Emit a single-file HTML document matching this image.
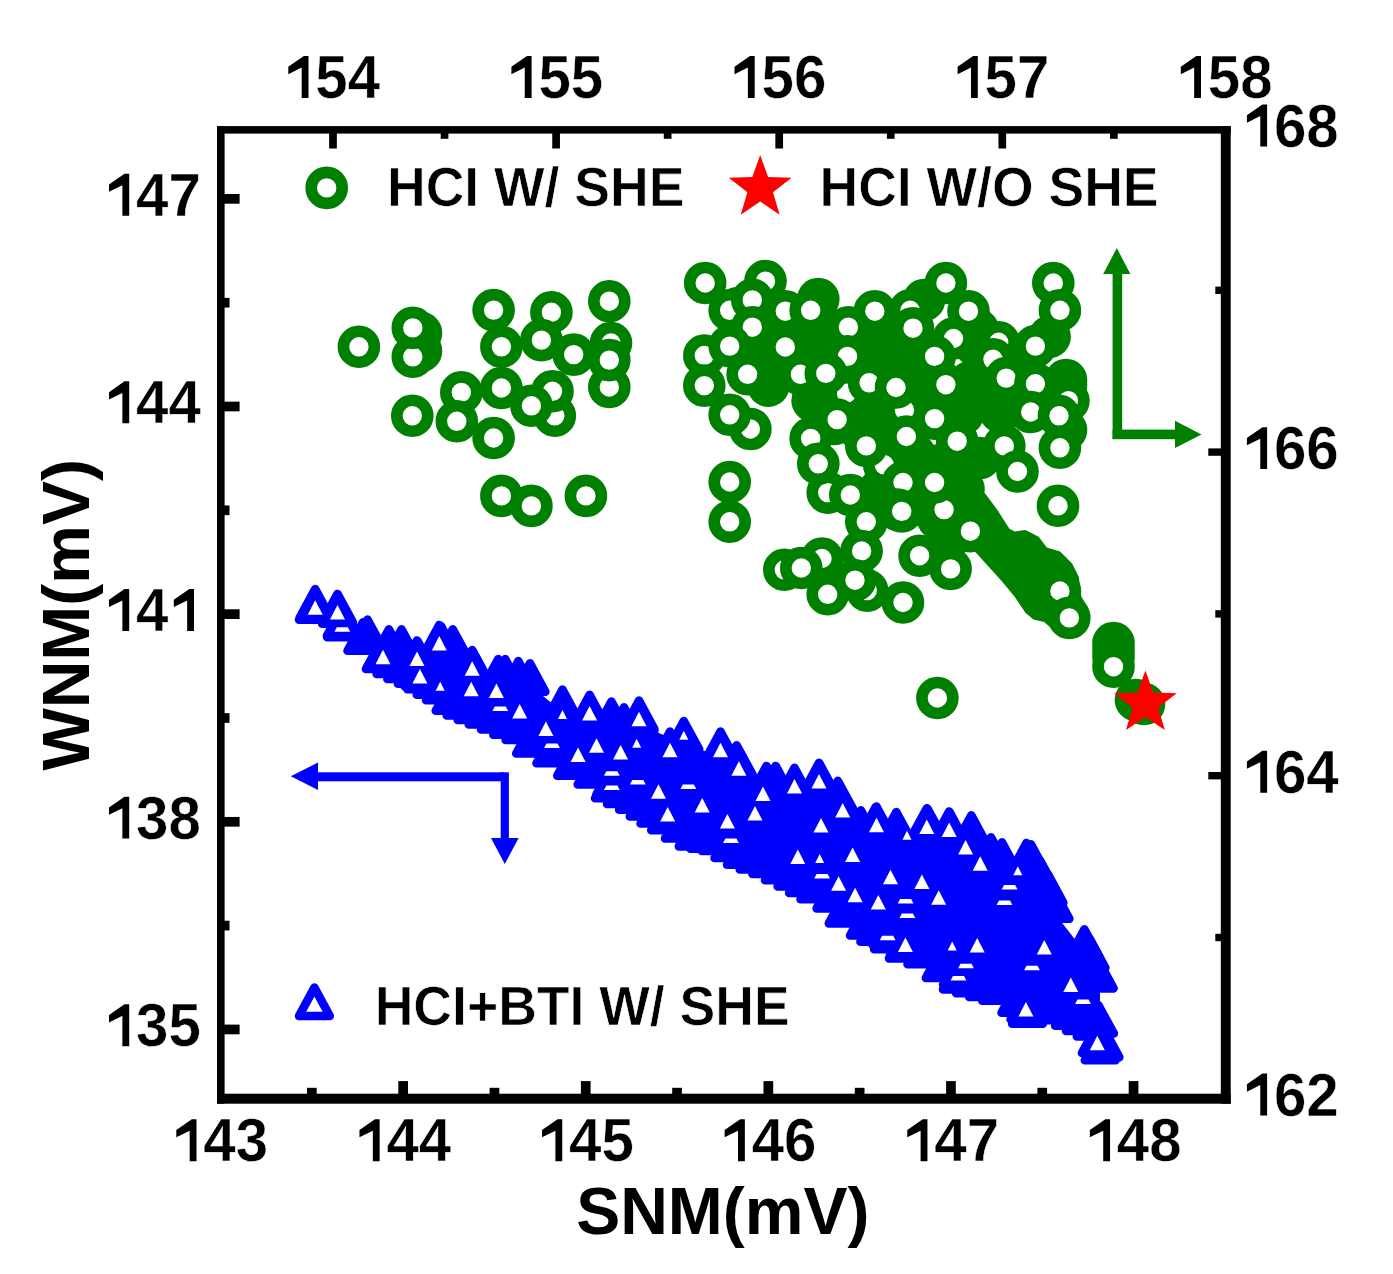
<!DOCTYPE html>
<html><head><meta charset="utf-8"><style>
html,body{margin:0;padding:0;background:#fff;}
body{width:1393px;height:1274px;overflow:hidden;}
svg{display:block;}
</style></head><body>
<svg width="1393" height="1274" viewBox="0 0 1393 1274">
<rect width="1393" height="1274" fill="#fff"/>
<g fill="#008000">
<polygon points="955,476 966.7,474 977.4,484.7 986.7,495.4 997.4,510 1009.4,528.7 1014.7,531.4 1025.4,530 1038.7,536.7 1046.8,547.4 1060.1,551.4 1072.1,563.4 1078.8,576.8 1081.4,596.8 1088.1,607.4 1089.5,620.8 1085,632 1066.8,638 1053.4,630.1 1044.1,622.1 1033.4,619.5 1025.4,612.8 1014.7,596.8 1001.4,580.8 988,566.1 976,552.7 962,540 950,520 948,490"/>
<circle cx="421" cy="333" r="21.3"/>
<circle cx="421" cy="351" r="21.3"/>
<circle cx="818.3" cy="299" r="21.3"/>
<circle cx="825.8" cy="336.7" r="21.3"/>
<circle cx="754.2" cy="355.5" r="21.3"/>
<circle cx="780.6" cy="372.5" r="21.3"/>
<circle cx="768.3" cy="385.6" r="21.3"/>
<circle cx="822" cy="359" r="21.3"/>
<circle cx="884.2" cy="413.9" r="21.3"/>
<circle cx="855.9" cy="412" r="21.3"/>
<circle cx="963.5" cy="489" r="21.3"/>
<circle cx="882.3" cy="338.5" r="21.3"/>
<circle cx="889.8" cy="357.4" r="21.3"/>
<circle cx="812.6" cy="400.7" r="21.3"/>
<circle cx="790" cy="329" r="21.3"/>
<circle cx="769.3" cy="329" r="21.3"/>
<circle cx="1049.6" cy="336.7" r="21.3"/>
<circle cx="919.6" cy="355.5" r="21.3"/>
<circle cx="921.4" cy="387.5" r="21.3"/>
<circle cx="970.4" cy="381.9" r="21.3"/>
<circle cx="962.9" cy="413.9" r="21.3"/>
<circle cx="1000.6" cy="412" r="21.3"/>
<circle cx="940" cy="465" r="21.3"/>
<circle cx="980" cy="458" r="21.3"/>
<circle cx="1020" cy="362" r="21.3"/>
<circle cx="1066" cy="380" r="21.3"/>
<circle cx="1066" cy="430" r="21.3"/>
<circle cx="978" cy="330" r="21.3"/>
<circle cx="880.4" cy="488.8" r="21.3"/>
<circle cx="938.4" cy="519" r="21.3"/>
<circle cx="944" cy="549" r="21.3"/>
<circle cx="738" cy="308" r="21.3"/>
<circle cx="784" cy="325" r="21.3"/>
<circle cx="812" cy="340" r="21.3"/>
<circle cx="767" cy="372" r="21.3"/>
<circle cx="818" cy="397" r="21.3"/>
<circle cx="883" cy="350" r="21.3"/>
<circle cx="882" cy="370" r="21.3"/>
<circle cx="834" cy="424" r="21.3"/>
<circle cx="874" cy="428" r="21.3"/>
<circle cx="890" cy="440" r="21.3"/>
<circle cx="860" cy="430" r="21.3"/>
<circle cx="888" cy="335" r="21.3"/>
<circle cx="888" cy="362" r="21.3"/>
<circle cx="924" cy="300" r="21.3"/>
<circle cx="975" cy="345" r="21.3"/>
<circle cx="1066" cy="385" r="21.3"/>
<circle cx="895" cy="445" r="21.3"/>
<circle cx="915" cy="455" r="21.3"/>
<circle cx="995" cy="398" r="21.3"/>
<circle cx="905" cy="365" r="21.3"/>
<circle cx="921" cy="505" r="21.3"/>
<circle cx="958" cy="505" r="21.3"/>
<circle cx="1113.5" cy="643" r="21.3"/>
<circle cx="1113.5" cy="650" r="21.3"/>
<circle cx="1113.5" cy="657" r="21.3"/>
</g>
<g fill="#fff" stroke="#008000" stroke-width="11.6">
<circle cx="611" cy="343" r="15.5"/>
<circle cx="609.3" cy="387" r="15.5"/>
<circle cx="554.8" cy="415.8" r="15.5"/>
<circle cx="765.5" cy="281.1" r="15.5"/>
<circle cx="729.7" cy="310.3" r="15.5"/>
<circle cx="704.3" cy="355.5" r="15.5"/>
<circle cx="846.5" cy="393.2" r="15.5"/>
<circle cx="750.4" cy="429" r="15.5"/>
<circle cx="837.1" cy="419.6" r="15.5"/>
<circle cx="884.2" cy="464.8" r="15.5"/>
<circle cx="910.1" cy="310.3" r="15.5"/>
<circle cx="953.5" cy="338.5" r="15.5"/>
<circle cx="998.7" cy="342.3" r="15.5"/>
<circle cx="993" cy="359.3" r="15.5"/>
<circle cx="1068.4" cy="400.7" r="15.5"/>
<circle cx="904.5" cy="410.1" r="15.5"/>
<circle cx="906.4" cy="436.5" r="15.5"/>
<circle cx="827.7" cy="492.6" r="15.5"/>
<circle cx="784.3" cy="569.8" r="15.5"/>
<circle cx="822" cy="558.5" r="15.5"/>
<circle cx="867.2" cy="590.6" r="15.5"/>
<circle cx="944.1" cy="509.6" r="15.5"/>
<circle cx="358.9" cy="346.8" r="15.5"/>
<circle cx="412.8" cy="356.8" r="15.5"/>
<circle cx="412.8" cy="327.9" r="15.5"/>
<circle cx="493.6" cy="310.1" r="15.5"/>
<circle cx="501.4" cy="346.8" r="15.5"/>
<circle cx="551.4" cy="312.3" r="15.5"/>
<circle cx="541.4" cy="340.1" r="15.5"/>
<circle cx="573.7" cy="354.6" r="15.5"/>
<circle cx="609.3" cy="301.2" r="15.5"/>
<circle cx="609.3" cy="360.1" r="15.5"/>
<circle cx="501.4" cy="388" r="15.5"/>
<circle cx="461.3" cy="392.4" r="15.5"/>
<circle cx="456.8" cy="421.3" r="15.5"/>
<circle cx="412.3" cy="415.8" r="15.5"/>
<circle cx="493.6" cy="438" r="15.5"/>
<circle cx="552.5" cy="391.3" r="15.5"/>
<circle cx="531.4" cy="405.8" r="15.5"/>
<circle cx="501.4" cy="495.9" r="15.5"/>
<circle cx="531.4" cy="505.9" r="15.5"/>
<circle cx="585.9" cy="495.9" r="15.5"/>
<circle cx="705.2" cy="283" r="15.5"/>
<circle cx="752.3" cy="299.9" r="15.5"/>
<circle cx="785.3" cy="311.2" r="15.5"/>
<circle cx="810.7" cy="310.3" r="15.5"/>
<circle cx="874.8" cy="311.2" r="15.5"/>
<circle cx="752.3" cy="327.2" r="15.5"/>
<circle cx="848.4" cy="327.2" r="15.5"/>
<circle cx="729.7" cy="346.1" r="15.5"/>
<circle cx="785.3" cy="347" r="15.5"/>
<circle cx="847.5" cy="356.4" r="15.5"/>
<circle cx="704.3" cy="385.6" r="15.5"/>
<circle cx="747.6" cy="374.3" r="15.5"/>
<circle cx="800.4" cy="374.3" r="15.5"/>
<circle cx="825.8" cy="373.4" r="15.5"/>
<circle cx="869.1" cy="382.8" r="15.5"/>
<circle cx="896" cy="387.5" r="15.5"/>
<circle cx="729.7" cy="414.8" r="15.5"/>
<circle cx="810.7" cy="438.4" r="15.5"/>
<circle cx="866.3" cy="445.9" r="15.5"/>
<circle cx="818.3" cy="463.8" r="15.5"/>
<circle cx="729.7" cy="482" r="15.5"/>
<circle cx="850.3" cy="495" r="15.5"/>
<circle cx="945.9" cy="283" r="15.5"/>
<circle cx="1053.3" cy="283" r="15.5"/>
<circle cx="1059.9" cy="310.3" r="15.5"/>
<circle cx="968.5" cy="311.2" r="15.5"/>
<circle cx="913" cy="328.2" r="15.5"/>
<circle cx="1035.4" cy="346.1" r="15.5"/>
<circle cx="934.6" cy="356.4" r="15.5"/>
<circle cx="945.9" cy="384.7" r="15.5"/>
<circle cx="1006.2" cy="378.1" r="15.5"/>
<circle cx="1035.4" cy="383.8" r="15.5"/>
<circle cx="934.6" cy="418.6" r="15.5"/>
<circle cx="1030.7" cy="412" r="15.5"/>
<circle cx="1059" cy="415.8" r="15.5"/>
<circle cx="1004.3" cy="445.9" r="15.5"/>
<circle cx="957.2" cy="441.2" r="15.5"/>
<circle cx="1059.9" cy="447.8" r="15.5"/>
<circle cx="1017.5" cy="471.5" r="15.5"/>
<circle cx="903" cy="482.5" r="15.5"/>
<circle cx="934.6" cy="482.5" r="15.5"/>
<circle cx="729.7" cy="521.8" r="15.5"/>
<circle cx="866.3" cy="521.8" r="15.5"/>
<circle cx="861.6" cy="551" r="15.5"/>
<circle cx="801.3" cy="568" r="15.5"/>
<circle cx="827.7" cy="594.3" r="15.5"/>
<circle cx="855" cy="580.2" r="15.5"/>
<circle cx="897.4" cy="509.6" r="15.5"/>
<circle cx="1058" cy="505.8" r="15.5"/>
<circle cx="901.7" cy="511.4" r="15.5"/>
<circle cx="970.4" cy="531.2" r="15.5"/>
<circle cx="919.6" cy="555.7" r="15.5"/>
<circle cx="950.6" cy="568.9" r="15.5"/>
<circle cx="903" cy="602.5" r="15.5"/>
<circle cx="1059.9" cy="591" r="15.5"/>
<circle cx="1069.3" cy="617.9" r="15.5"/>
<circle cx="1113.5" cy="666.7" r="15.5"/>
<circle cx="937.4" cy="698" r="15.5"/>
<circle cx="1136" cy="700" r="15.5"/>
<circle cx="1144" cy="704" r="15.5"/>
</g>
<polygon fill="#0000ff" points="315.5,613.5 337.5,617.5 367.5,641.7 388.9,651.4 401.5,651.4 417.9,664.0 441.2,648.5 452.8,651.4 472.5,673.2 498.2,681.2 505.2,681.2 518.3,683.2 530.0,685.5 562.5,711.8 589.6,719.1 611.4,723.7 624.0,729.5 639.0,724.9 683.8,743.2 720.5,757.0 736.6,767.4 766.5,788.1 775.7,788.1 794.0,793.8 819.5,786.1 837.8,802.9 860.9,832.5 875.7,829.2 896.3,834.2 927.6,830.9 949.0,835.8 971.3,837.5 991.0,859.5 1002.0,864.5 1026.5,865.1 1031.0,866.5 1040.0,882.5 1048.0,896.5 1054.0,912.5 1084.4,951.5 1090.0,961.5 1098.0,982.0 1100.0,990.0 1100.0,1020.0 1100.2,1040.0 1092.2,1016.3 1081.4,1010.9 1070.5,1005.5 1059.7,1000.0 1027.5,1003.6 1016.9,992.5 997.6,980.5 984.6,976.8 971.5,973.0 958.4,969.2 941.2,957.8 922.9,944.0 904.4,938.2 889.5,929.0 875.8,921.6 865.4,915.3 844.2,903.2 832.0,888.2 815.9,879.0 804.5,872.8 793.0,866.4 780.4,860.1 767.8,853.8 755.1,849.2 742.4,844.6 729.9,837.8 717.2,830.8 705.8,828.5 694.2,826.2 680.4,818.2 666.6,810.1 655.9,803.3 645.2,796.4 634.5,789.5 622.4,783.8 610.4,778.0 593.1,764.2 572.6,755.5 551.9,743.0 531.6,733.3 521.0,719.8 508.7,714.6 496.4,709.4 484.1,704.2 473.1,699.7 462.1,695.2 451.1,690.6 441.4,680.0 432.1,674.5 422.7,669.0 413.3,663.5 402.7,658.7 392.0,653.8 381.3,648.9 362.9,630.5 342.6,617.0 314.4,599.5"/>
<g fill="#0000ff" stroke="#0000ff" stroke-width="8.5" stroke-linejoin="round">
<path transform="translate(315.5,605.5)" d="M0,-14.2 L15.4,14.2 L-15.4,14.2 Z"/>
<path transform="translate(337.5,609.5)" d="M0,-14.2 L15.4,14.2 L-15.4,14.2 Z"/>
<path transform="translate(367.5,633.7)" d="M0,-14.2 L15.4,14.2 L-15.4,14.2 Z"/>
<path transform="translate(388.9,643.4)" d="M0,-14.2 L15.4,14.2 L-15.4,14.2 Z"/>
<path transform="translate(401.5,643.4)" d="M0,-14.2 L15.4,14.2 L-15.4,14.2 Z"/>
<path transform="translate(417.9,656.0)" d="M0,-14.2 L15.4,14.2 L-15.4,14.2 Z"/>
<path transform="translate(441.2,640.5)" d="M0,-14.2 L15.4,14.2 L-15.4,14.2 Z"/>
<path transform="translate(452.8,643.4)" d="M0,-14.2 L15.4,14.2 L-15.4,14.2 Z"/>
<path transform="translate(472.5,665.2)" d="M0,-14.2 L15.4,14.2 L-15.4,14.2 Z"/>
<path transform="translate(498.2,673.2)" d="M0,-14.2 L15.4,14.2 L-15.4,14.2 Z"/>
<path transform="translate(505.2,673.2)" d="M0,-14.2 L15.4,14.2 L-15.4,14.2 Z"/>
<path transform="translate(518.3,675.2)" d="M0,-14.2 L15.4,14.2 L-15.4,14.2 Z"/>
<path transform="translate(530.0,677.5)" d="M0,-14.2 L15.4,14.2 L-15.4,14.2 Z"/>
<path transform="translate(562.5,703.8)" d="M0,-14.2 L15.4,14.2 L-15.4,14.2 Z"/>
<path transform="translate(589.6,711.1)" d="M0,-14.2 L15.4,14.2 L-15.4,14.2 Z"/>
<path transform="translate(611.4,715.7)" d="M0,-14.2 L15.4,14.2 L-15.4,14.2 Z"/>
<path transform="translate(624.0,721.5)" d="M0,-14.2 L15.4,14.2 L-15.4,14.2 Z"/>
<path transform="translate(639.0,716.9)" d="M0,-14.2 L15.4,14.2 L-15.4,14.2 Z"/>
<path transform="translate(683.8,735.2)" d="M0,-14.2 L15.4,14.2 L-15.4,14.2 Z"/>
<path transform="translate(720.5,749.0)" d="M0,-14.2 L15.4,14.2 L-15.4,14.2 Z"/>
<path transform="translate(736.6,759.4)" d="M0,-14.2 L15.4,14.2 L-15.4,14.2 Z"/>
<path transform="translate(766.5,780.1)" d="M0,-14.2 L15.4,14.2 L-15.4,14.2 Z"/>
<path transform="translate(775.7,780.1)" d="M0,-14.2 L15.4,14.2 L-15.4,14.2 Z"/>
<path transform="translate(794.0,785.8)" d="M0,-14.2 L15.4,14.2 L-15.4,14.2 Z"/>
<path transform="translate(819.5,778.1)" d="M0,-14.2 L15.4,14.2 L-15.4,14.2 Z"/>
<path transform="translate(837.8,794.9)" d="M0,-14.2 L15.4,14.2 L-15.4,14.2 Z"/>
<path transform="translate(860.9,824.5)" d="M0,-14.2 L15.4,14.2 L-15.4,14.2 Z"/>
<path transform="translate(875.7,821.2)" d="M0,-14.2 L15.4,14.2 L-15.4,14.2 Z"/>
<path transform="translate(896.3,826.2)" d="M0,-14.2 L15.4,14.2 L-15.4,14.2 Z"/>
<path transform="translate(927.6,822.9)" d="M0,-14.2 L15.4,14.2 L-15.4,14.2 Z"/>
<path transform="translate(949.0,827.8)" d="M0,-14.2 L15.4,14.2 L-15.4,14.2 Z"/>
<path transform="translate(971.3,829.5)" d="M0,-14.2 L15.4,14.2 L-15.4,14.2 Z"/>
<path transform="translate(991.0,851.5)" d="M0,-14.2 L15.4,14.2 L-15.4,14.2 Z"/>
<path transform="translate(1002.0,856.5)" d="M0,-14.2 L15.4,14.2 L-15.4,14.2 Z"/>
<path transform="translate(1026.5,857.1)" d="M0,-14.2 L15.4,14.2 L-15.4,14.2 Z"/>
<path transform="translate(1031.0,858.5)" d="M0,-14.2 L15.4,14.2 L-15.4,14.2 Z"/>
<path transform="translate(1040.0,874.5)" d="M0,-14.2 L15.4,14.2 L-15.4,14.2 Z"/>
<path transform="translate(1048.0,888.5)" d="M0,-14.2 L15.4,14.2 L-15.4,14.2 Z"/>
<path transform="translate(1054.0,904.5)" d="M0,-14.2 L15.4,14.2 L-15.4,14.2 Z"/>
<path transform="translate(1084.4,943.5)" d="M0,-14.2 L15.4,14.2 L-15.4,14.2 Z"/>
<path transform="translate(1090.0,953.5)" d="M0,-14.2 L15.4,14.2 L-15.4,14.2 Z"/>
<path transform="translate(1098.0,974.0)" d="M0,-14.2 L15.4,14.2 L-15.4,14.2 Z"/>
<path transform="translate(314.4,605.5)" d="M0,-14.2 L15.4,14.2 L-15.4,14.2 Z"/>
<path transform="translate(342.6,623.0)" d="M0,-14.2 L15.4,14.2 L-15.4,14.2 Z"/>
<path transform="translate(362.9,636.5)" d="M0,-14.2 L15.4,14.2 L-15.4,14.2 Z"/>
<path transform="translate(381.3,654.9)" d="M0,-14.2 L15.4,14.2 L-15.4,14.2 Z"/>
<path transform="translate(392.0,659.8)" d="M0,-14.2 L15.4,14.2 L-15.4,14.2 Z"/>
<path transform="translate(402.7,664.7)" d="M0,-14.2 L15.4,14.2 L-15.4,14.2 Z"/>
<path transform="translate(413.3,669.5)" d="M0,-14.2 L15.4,14.2 L-15.4,14.2 Z"/>
<path transform="translate(422.7,675.0)" d="M0,-14.2 L15.4,14.2 L-15.4,14.2 Z"/>
<path transform="translate(432.1,680.5)" d="M0,-14.2 L15.4,14.2 L-15.4,14.2 Z"/>
<path transform="translate(441.4,686.0)" d="M0,-14.2 L15.4,14.2 L-15.4,14.2 Z"/>
<path transform="translate(451.1,696.6)" d="M0,-14.2 L15.4,14.2 L-15.4,14.2 Z"/>
<path transform="translate(462.1,701.2)" d="M0,-14.2 L15.4,14.2 L-15.4,14.2 Z"/>
<path transform="translate(473.1,705.7)" d="M0,-14.2 L15.4,14.2 L-15.4,14.2 Z"/>
<path transform="translate(484.1,710.2)" d="M0,-14.2 L15.4,14.2 L-15.4,14.2 Z"/>
<path transform="translate(496.4,715.4)" d="M0,-14.2 L15.4,14.2 L-15.4,14.2 Z"/>
<path transform="translate(508.7,720.6)" d="M0,-14.2 L15.4,14.2 L-15.4,14.2 Z"/>
<path transform="translate(521.0,725.8)" d="M0,-14.2 L15.4,14.2 L-15.4,14.2 Z"/>
<path transform="translate(531.6,739.3)" d="M0,-14.2 L15.4,14.2 L-15.4,14.2 Z"/>
<path transform="translate(551.9,749.0)" d="M0,-14.2 L15.4,14.2 L-15.4,14.2 Z"/>
<path transform="translate(572.6,761.5)" d="M0,-14.2 L15.4,14.2 L-15.4,14.2 Z"/>
<path transform="translate(593.1,770.2)" d="M0,-14.2 L15.4,14.2 L-15.4,14.2 Z"/>
<path transform="translate(610.4,784.0)" d="M0,-14.2 L15.4,14.2 L-15.4,14.2 Z"/>
<path transform="translate(622.4,789.8)" d="M0,-14.2 L15.4,14.2 L-15.4,14.2 Z"/>
<path transform="translate(634.5,795.5)" d="M0,-14.2 L15.4,14.2 L-15.4,14.2 Z"/>
<path transform="translate(645.2,802.4)" d="M0,-14.2 L15.4,14.2 L-15.4,14.2 Z"/>
<path transform="translate(655.9,809.3)" d="M0,-14.2 L15.4,14.2 L-15.4,14.2 Z"/>
<path transform="translate(666.6,816.1)" d="M0,-14.2 L15.4,14.2 L-15.4,14.2 Z"/>
<path transform="translate(680.4,824.2)" d="M0,-14.2 L15.4,14.2 L-15.4,14.2 Z"/>
<path transform="translate(694.2,832.2)" d="M0,-14.2 L15.4,14.2 L-15.4,14.2 Z"/>
<path transform="translate(705.8,834.5)" d="M0,-14.2 L15.4,14.2 L-15.4,14.2 Z"/>
<path transform="translate(717.2,836.8)" d="M0,-14.2 L15.4,14.2 L-15.4,14.2 Z"/>
<path transform="translate(729.9,843.8)" d="M0,-14.2 L15.4,14.2 L-15.4,14.2 Z"/>
<path transform="translate(742.4,850.6)" d="M0,-14.2 L15.4,14.2 L-15.4,14.2 Z"/>
<path transform="translate(755.1,855.2)" d="M0,-14.2 L15.4,14.2 L-15.4,14.2 Z"/>
<path transform="translate(767.8,859.8)" d="M0,-14.2 L15.4,14.2 L-15.4,14.2 Z"/>
<path transform="translate(780.4,866.1)" d="M0,-14.2 L15.4,14.2 L-15.4,14.2 Z"/>
<path transform="translate(793.0,872.4)" d="M0,-14.2 L15.4,14.2 L-15.4,14.2 Z"/>
<path transform="translate(804.5,878.8)" d="M0,-14.2 L15.4,14.2 L-15.4,14.2 Z"/>
<path transform="translate(815.9,885.0)" d="M0,-14.2 L15.4,14.2 L-15.4,14.2 Z"/>
<path transform="translate(832.0,894.2)" d="M0,-14.2 L15.4,14.2 L-15.4,14.2 Z"/>
<path transform="translate(844.2,909.2)" d="M0,-14.2 L15.4,14.2 L-15.4,14.2 Z"/>
<path transform="translate(865.4,921.3)" d="M0,-14.2 L15.4,14.2 L-15.4,14.2 Z"/>
<path transform="translate(875.8,927.6)" d="M0,-14.2 L15.4,14.2 L-15.4,14.2 Z"/>
<path transform="translate(889.5,935.0)" d="M0,-14.2 L15.4,14.2 L-15.4,14.2 Z"/>
<path transform="translate(904.4,944.2)" d="M0,-14.2 L15.4,14.2 L-15.4,14.2 Z"/>
<path transform="translate(922.9,950.0)" d="M0,-14.2 L15.4,14.2 L-15.4,14.2 Z"/>
<path transform="translate(941.2,963.8)" d="M0,-14.2 L15.4,14.2 L-15.4,14.2 Z"/>
<path transform="translate(958.4,975.2)" d="M0,-14.2 L15.4,14.2 L-15.4,14.2 Z"/>
<path transform="translate(971.5,979.0)" d="M0,-14.2 L15.4,14.2 L-15.4,14.2 Z"/>
<path transform="translate(984.6,982.8)" d="M0,-14.2 L15.4,14.2 L-15.4,14.2 Z"/>
<path transform="translate(997.6,986.5)" d="M0,-14.2 L15.4,14.2 L-15.4,14.2 Z"/>
<path transform="translate(1016.9,998.5)" d="M0,-14.2 L15.4,14.2 L-15.4,14.2 Z"/>
<path transform="translate(1027.5,1009.6)" d="M0,-14.2 L15.4,14.2 L-15.4,14.2 Z"/>
<path transform="translate(1059.7,1006.0)" d="M0,-14.2 L15.4,14.2 L-15.4,14.2 Z"/>
<path transform="translate(1070.5,1011.5)" d="M0,-14.2 L15.4,14.2 L-15.4,14.2 Z"/>
<path transform="translate(1081.4,1016.9)" d="M0,-14.2 L15.4,14.2 L-15.4,14.2 Z"/>
<path transform="translate(1092.2,1022.3)" d="M0,-14.2 L15.4,14.2 L-15.4,14.2 Z"/>
<path transform="translate(1100.2,1046.0)" d="M0,-14.2 L15.4,14.2 L-15.4,14.2 Z"/>
<path transform="translate(1098.5,1019.4)" d="M0,-14.2 L15.4,14.2 L-15.4,14.2 Z"/>
<path transform="translate(1104.0,1043.0)" d="M0,-14.2 L15.4,14.2 L-15.4,14.2 Z"/>
<path transform="translate(1098.0,974.0)" d="M0,-14.2 L15.4,14.2 L-15.4,14.2 Z"/>
<path transform="translate(1042.0,1003.0)" d="M0,-14.2 L15.4,14.2 L-15.4,14.2 Z"/>
<path transform="translate(315.2,603.3)" d="M0,-14.2 L15.4,14.2 L-15.4,14.2 Z"/>
<path transform="translate(337.5,608.1)" d="M0,-14.2 L15.4,14.2 L-15.4,14.2 Z"/>
<path transform="translate(383.0,652.7)" d="M0,-14.2 L15.4,14.2 L-15.4,14.2 Z"/>
<path transform="translate(417.0,654.6)" d="M0,-14.2 L15.4,14.2 L-15.4,14.2 Z"/>
<path transform="translate(439.3,639.1)" d="M0,-14.2 L15.4,14.2 L-15.4,14.2 Z"/>
<path transform="translate(419.9,672.1)" d="M0,-14.2 L15.4,14.2 L-15.4,14.2 Z"/>
<path transform="translate(472.2,664.3)" d="M0,-14.2 L15.4,14.2 L-15.4,14.2 Z"/>
<path transform="translate(471.2,684.7)" d="M0,-14.2 L15.4,14.2 L-15.4,14.2 Z"/>
<path transform="translate(496.4,686.6)" d="M0,-14.2 L15.4,14.2 L-15.4,14.2 Z"/>
<path transform="translate(519.7,707.0)" d="M0,-14.2 L15.4,14.2 L-15.4,14.2 Z"/>
<path transform="translate(545.9,724.4)" d="M0,-14.2 L15.4,14.2 L-15.4,14.2 Z"/>
<path transform="translate(589.6,709.0)" d="M0,-14.2 L15.4,14.2 L-15.4,14.2 Z"/>
<path transform="translate(639.0,714.8)" d="M0,-14.2 L15.4,14.2 L-15.4,14.2 Z"/>
<path transform="translate(596.5,741.2)" d="M0,-14.2 L15.4,14.2 L-15.4,14.2 Z"/>
<path transform="translate(578.1,750.4)" d="M0,-14.2 L15.4,14.2 L-15.4,14.2 Z"/>
<path transform="translate(620.6,748.1)" d="M0,-14.2 L15.4,14.2 L-15.4,14.2 Z"/>
<path transform="translate(670.0,745.8)" d="M0,-14.2 L15.4,14.2 L-15.4,14.2 Z"/>
<path transform="translate(720.5,745.8)" d="M0,-14.2 L15.4,14.2 L-15.4,14.2 Z"/>
<path transform="translate(658.5,787.2)" d="M0,-14.2 L15.4,14.2 L-15.4,14.2 Z"/>
<path transform="translate(667.7,810.1)" d="M0,-14.2 L15.4,14.2 L-15.4,14.2 Z"/>
<path transform="translate(702.2,801.0)" d="M0,-14.2 L15.4,14.2 L-15.4,14.2 Z"/>
<path transform="translate(738.9,764.2)" d="M0,-14.2 L15.4,14.2 L-15.4,14.2 Z"/>
<path transform="translate(763.0,789.5)" d="M0,-14.2 L15.4,14.2 L-15.4,14.2 Z"/>
<path transform="translate(794.5,782.0)" d="M0,-14.2 L15.4,14.2 L-15.4,14.2 Z"/>
<path transform="translate(727.4,817.0)" d="M0,-14.2 L15.4,14.2 L-15.4,14.2 Z"/>
<path transform="translate(755.0,809.0)" d="M0,-14.2 L15.4,14.2 L-15.4,14.2 Z"/>
<path transform="translate(797.8,852.5)" d="M0,-14.2 L15.4,14.2 L-15.4,14.2 Z"/>
<path transform="translate(819.0,777.0)" d="M0,-14.2 L15.4,14.2 L-15.4,14.2 Z"/>
<path transform="translate(842.7,805.9)" d="M0,-14.2 L15.4,14.2 L-15.4,14.2 Z"/>
<path transform="translate(821.0,821.0)" d="M0,-14.2 L15.4,14.2 L-15.4,14.2 Z"/>
<path transform="translate(876.5,820.8)" d="M0,-14.2 L15.4,14.2 L-15.4,14.2 Z"/>
<path transform="translate(926.8,822.4)" d="M0,-14.2 L15.4,14.2 L-15.4,14.2 Z"/>
<path transform="translate(949.2,825.6)" d="M0,-14.2 L15.4,14.2 L-15.4,14.2 Z"/>
<path transform="translate(965.6,843.0)" d="M0,-14.2 L15.4,14.2 L-15.4,14.2 Z"/>
<path transform="translate(980.2,859.3)" d="M0,-14.2 L15.4,14.2 L-15.4,14.2 Z"/>
<path transform="translate(852.6,850.4)" d="M0,-14.2 L15.4,14.2 L-15.4,14.2 Z"/>
<path transform="translate(890.5,872.7)" d="M0,-14.2 L15.4,14.2 L-15.4,14.2 Z"/>
<path transform="translate(921.9,877.6)" d="M0,-14.2 L15.4,14.2 L-15.4,14.2 Z"/>
<path transform="translate(838.6,879.3)" d="M0,-14.2 L15.4,14.2 L-15.4,14.2 Z"/>
<path transform="translate(855.1,890.8)" d="M0,-14.2 L15.4,14.2 L-15.4,14.2 Z"/>
<path transform="translate(878.3,898.1)" d="M0,-14.2 L15.4,14.2 L-15.4,14.2 Z"/>
<path transform="translate(938.7,893.2)" d="M0,-14.2 L15.4,14.2 L-15.4,14.2 Z"/>
<path transform="translate(905.4,940.4)" d="M0,-14.2 L15.4,14.2 L-15.4,14.2 Z"/>
<path transform="translate(977.2,941.0)" d="M0,-14.2 L15.4,14.2 L-15.4,14.2 Z"/>
<path transform="translate(1044.3,942.9)" d="M0,-14.2 L15.4,14.2 L-15.4,14.2 Z"/>
<path transform="translate(1070.8,980.6)" d="M0,-14.2 L15.4,14.2 L-15.4,14.2 Z"/>
<path transform="translate(1025.9,1005.1)" d="M0,-14.2 L15.4,14.2 L-15.4,14.2 Z"/>
<path transform="translate(1097.3,1038.8)" d="M0,-14.2 L15.4,14.2 L-15.4,14.2 Z"/>
<path transform="translate(611.9,765.8)" d="M0,-14.2 L15.4,14.2 L-15.4,14.2 Z"/>
<path transform="translate(611.9,780.0)" d="M0,-14.2 L15.4,14.2 L-15.4,14.2 Z"/>
<path transform="translate(342.3,621.7)" d="M0,-14.2 L15.4,14.2 L-15.4,14.2 Z"/>
<path transform="translate(500.3,701.1)" d="M0,-14.2 L15.4,14.2 L-15.4,14.2 Z"/>
<path transform="translate(552.0,738.0)" d="M0,-14.2 L15.4,14.2 L-15.4,14.2 Z"/>
<path transform="translate(637.8,774.5)" d="M0,-14.2 L15.4,14.2 L-15.4,14.2 Z"/>
<path transform="translate(688.4,779.0)" d="M0,-14.2 L15.4,14.2 L-15.4,14.2 Z"/>
<path transform="translate(730.9,833.0)" d="M0,-14.2 L15.4,14.2 L-15.4,14.2 Z"/>
<path transform="translate(905.6,893.6)" d="M0,-14.2 L15.4,14.2 L-15.4,14.2 Z"/>
<path transform="translate(907.4,907.9)" d="M0,-14.2 L15.4,14.2 L-15.4,14.2 Z"/>
<path transform="translate(822.1,868.6)" d="M0,-14.2 L15.4,14.2 L-15.4,14.2 Z"/>
<path transform="translate(887.7,930.2)" d="M0,-14.2 L15.4,14.2 L-15.4,14.2 Z"/>
<path transform="translate(1004.5,894.9)" d="M0,-14.2 L15.4,14.2 L-15.4,14.2 Z"/>
<path transform="translate(1009.6,879.6)" d="M0,-14.2 L15.4,14.2 L-15.4,14.2 Z"/>
<path transform="translate(1032.0,960.2)" d="M0,-14.2 L15.4,14.2 L-15.4,14.2 Z"/>
<path transform="translate(966.0,958.2)" d="M0,-14.2 L15.4,14.2 L-15.4,14.2 Z"/>
<path transform="translate(958.5,970.4)" d="M0,-14.2 L15.4,14.2 L-15.4,14.2 Z"/>
<path transform="translate(1083.0,993.9)" d="M0,-14.2 L15.4,14.2 L-15.4,14.2 Z"/>
</g>
<g fill="#fff">
<polygon points="315.2,600.3 322.7,614.8 307.7,614.8"/>
<polygon points="337.5,605.1 345.0,619.6 330.0,619.6"/>
<polygon points="383.0,649.7 390.5,664.2 375.5,664.2"/>
<polygon points="417.0,651.6 424.5,666.1 409.5,666.1"/>
<polygon points="439.3,636.1 446.8,650.6 431.8,650.6"/>
<polygon points="419.9,669.1 427.4,683.6 412.4,683.6"/>
<polygon points="472.2,661.3 479.7,675.8 464.7,675.8"/>
<polygon points="471.2,681.7 478.7,696.2 463.7,696.2"/>
<polygon points="496.4,683.6 503.9,698.1 488.9,698.1"/>
<polygon points="519.7,704.0 527.2,718.5 512.2,718.5"/>
<polygon points="545.9,721.4 553.4,735.9 538.4,735.9"/>
<polygon points="589.6,706.0 597.1,720.5 582.1,720.5"/>
<polygon points="639.0,711.8 646.5,726.3 631.5,726.3"/>
<polygon points="596.5,738.2 604.0,752.7 589.0,752.7"/>
<polygon points="578.1,747.4 585.6,761.9 570.6,761.9"/>
<polygon points="620.6,745.1 628.1,759.6 613.1,759.6"/>
<polygon points="670.0,742.8 677.5,757.3 662.5,757.3"/>
<polygon points="720.5,742.8 728.0,757.3 713.0,757.3"/>
<polygon points="658.5,784.2 666.0,798.7 651.0,798.7"/>
<polygon points="667.7,807.1 675.2,821.6 660.2,821.6"/>
<polygon points="702.2,798.0 709.7,812.5 694.7,812.5"/>
<polygon points="738.9,761.2 746.4,775.7 731.4,775.7"/>
<polygon points="763.0,786.5 770.5,801.0 755.5,801.0"/>
<polygon points="794.5,779.0 802.0,793.5 787.0,793.5"/>
<polygon points="727.4,814.0 734.9,828.5 719.9,828.5"/>
<polygon points="755.0,806.0 762.5,820.5 747.5,820.5"/>
<polygon points="797.8,849.5 805.3,864.0 790.3,864.0"/>
<polygon points="819.0,774.0 826.5,788.5 811.5,788.5"/>
<polygon points="842.7,802.9 850.2,817.4 835.2,817.4"/>
<polygon points="821.0,818.0 828.5,832.5 813.5,832.5"/>
<polygon points="876.5,817.8 884.0,832.3 869.0,832.3"/>
<polygon points="926.8,819.4 934.3,833.9 919.3,833.9"/>
<polygon points="949.2,822.6 956.7,837.1 941.7,837.1"/>
<polygon points="965.6,840.0 973.1,854.5 958.1,854.5"/>
<polygon points="980.2,856.3 987.7,870.8 972.7,870.8"/>
<polygon points="852.6,847.4 860.1,861.9 845.1,861.9"/>
<polygon points="890.5,869.7 898.0,884.2 883.0,884.2"/>
<polygon points="921.9,874.6 929.4,889.1 914.4,889.1"/>
<polygon points="838.6,876.3 846.1,890.8 831.1,890.8"/>
<polygon points="855.1,887.8 862.6,902.3 847.6,902.3"/>
<polygon points="878.3,895.1 885.8,909.6 870.8,909.6"/>
<polygon points="938.7,890.2 946.2,904.7 931.2,904.7"/>
<polygon points="905.4,937.4 912.9,951.9 897.9,951.9"/>
<polygon points="977.2,938.0 984.7,952.5 969.7,952.5"/>
<polygon points="1044.3,939.9 1051.8,954.4 1036.8,954.4"/>
<polygon points="1070.8,977.6 1078.3,992.1 1063.3,992.1"/>
<polygon points="1025.9,1002.1 1033.4,1016.6 1018.4,1016.6"/>
<polygon points="1097.3,1035.8 1104.8,1050.3 1089.8,1050.3"/>
<polygon points="562.5,710.0 567.0,719.0 558.0,719.0"/>
<polygon points="440.2,681.8 444.7,690.8 435.7,690.8"/>
<polygon points="636.7,738.8 641.2,747.8 632.2,747.8"/>
<polygon points="683.8,730.7 688.3,739.7 679.3,739.7"/>
<polygon points="819.7,853.9 824.2,862.9 815.2,862.9"/>
<polygon points="907.0,830.8 911.5,839.8 902.5,839.8"/>
<polygon points="1017.8,866.3 1022.3,875.3 1013.3,875.3"/>
<polygon points="952.2,941.6 956.7,950.6 947.7,950.6"/>
<polygon points="606.4,771.3 617.4,771.3 619.8,775.8 604.0,775.8"/>
<polygon points="606.4,785.5 617.4,785.5 619.8,790.0 604.0,790.0"/>
<polygon points="336.8,627.2 347.8,627.2 350.2,631.7 334.4,631.7"/>
<polygon points="494.8,706.6 505.8,706.6 508.2,711.1 492.4,711.1"/>
<polygon points="546.5,743.5 557.5,743.5 559.9,748.0 544.1,748.0"/>
<polygon points="632.3,780.0 643.3,780.0 645.7,784.5 629.9,784.5"/>
<polygon points="682.9,784.5 693.9,784.5 696.3,789.0 680.5,789.0"/>
<polygon points="725.4,838.5 736.4,838.5 738.8,843.0 723.0,843.0"/>
<polygon points="900.1,899.1 911.1,899.1 913.5,903.6 897.7,903.6"/>
<polygon points="901.9,913.4 912.9,913.4 915.3,917.9 899.5,917.9"/>
<polygon points="816.6,874.1 827.6,874.1 830.0,878.6 814.2,878.6"/>
<polygon points="882.2,935.7 893.2,935.7 895.6,940.2 879.8,940.2"/>
<polygon points="999.0,900.4 1010.0,900.4 1012.4,904.9 996.6,904.9"/>
<polygon points="1004.1,885.1 1015.1,885.1 1017.5,889.6 1001.7,889.6"/>
<polygon points="1026.5,965.7 1037.5,965.7 1039.9,970.2 1024.1,970.2"/>
<polygon points="960.5,963.7 971.5,963.7 973.9,968.2 958.1,968.2"/>
<polygon points="953.0,975.9 964.0,975.9 966.4,980.4 950.6,980.4"/>
<polygon points="1077.5,999.4 1088.5,999.4 1090.9,1003.9 1075.1,1003.9"/>
</g>
<g fill="#008000">
<rect x="1112.6" y="270" width="9.6" height="169"/>
<rect x="1112.6" y="429.6" width="64" height="9.6"/>
<polygon points="1116.8,248 1130.4,274 1103.2,274"/>
<polygon points="1201.5,434.4 1175,420.8 1175,448"/>
</g>
<g fill="#0000ff">
<rect x="316" y="772.3" width="188" height="9"/>
<rect x="500.7" y="772.3" width="8.2" height="67"/>
<polygon points="290.8,776.3 318,762.6 318,790"/>
<polygon points="504.8,864 491,838 518.6,838"/>
</g>
<polygon fill="#ff0000" points="1145.4,670.4 1153.3,692.5 1176.8,693.2 1158.2,707.6 1164.8,730.1 1145.4,716.9 1126.0,730.1 1132.6,707.6 1114.0,693.2 1137.5,692.5"/>
<g fill="#000">
<rect x="217.0" y="126.1" width="7.6" height="977.6"/>
<rect x="217.0" y="126.1" width="1013.7" height="7.5"/>
<rect x="1220.8" y="126.1" width="9.9" height="977.6"/>
<rect x="217.0" y="1093.7" width="1013.7" height="10.0"/>
<rect x="398.30" y="1081.1" width="9.7" height="13"/>
<rect x="580.90" y="1081.1" width="9.7" height="13"/>
<rect x="763.50" y="1081.1" width="9.7" height="13"/>
<rect x="946.10" y="1081.1" width="9.7" height="13"/>
<rect x="1128.70" y="1081.1" width="9.7" height="13"/>
<rect x="307.00" y="1087.8" width="9.7" height="6.5"/>
<rect x="489.60" y="1087.8" width="9.7" height="6.5"/>
<rect x="672.20" y="1087.8" width="9.7" height="6.5"/>
<rect x="854.80" y="1087.8" width="9.7" height="6.5"/>
<rect x="1037.40" y="1087.8" width="9.7" height="6.5"/>
<rect x="329.15" y="133" width="7.7" height="15.5"/>
<rect x="552.25" y="133" width="7.7" height="15.5"/>
<rect x="775.35" y="133" width="7.7" height="15.5"/>
<rect x="998.45" y="133" width="7.7" height="15.5"/>
<rect x="440.70" y="133" width="7.7" height="5.8"/>
<rect x="663.80" y="133" width="7.7" height="5.8"/>
<rect x="886.90" y="133" width="7.7" height="5.8"/>
<rect x="1110.00" y="133" width="7.7" height="5.8"/>
<rect x="224" y="194.00" width="15.6" height="9.7"/>
<rect x="224" y="401.65" width="15.6" height="9.7"/>
<rect x="224" y="609.30" width="15.6" height="9.7"/>
<rect x="224" y="816.95" width="15.6" height="9.7"/>
<rect x="224" y="1024.60" width="15.6" height="9.7"/>
<rect x="224" y="297.85" width="5.5" height="9.7"/>
<rect x="224" y="505.45" width="5.5" height="9.7"/>
<rect x="224" y="713.15" width="5.5" height="9.7"/>
<rect x="224" y="920.75" width="5.5" height="9.7"/>
<rect x="1208.3" y="448.40" width="13" height="7.4"/>
<rect x="1208.3" y="772.00" width="13" height="7.4"/>
<rect x="1215.3" y="286.60" width="6" height="7.4"/>
<rect x="1215.3" y="610.20" width="6" height="7.4"/>
<rect x="1215.3" y="933.80" width="6" height="7.4"/>
</g>
<g font-family='"Liberation Sans", sans-serif' font-weight="bold" font-size="61.0" fill="#000" stroke="#fff" stroke-width="0.5">
<path stroke="none" transform="translate(170.90,1161.20) scale(0.02844,-0.02979)" d="M660,0 L900,0 L900,1409 L735,1409 L190,1045 L190,800 L660,1020 Z"/>
<text transform="translate(203.30,1161.20) scale(0.955,1)">4</text>
<text transform="translate(235.70,1161.20) scale(0.955,1)">3</text>
<path stroke="none" transform="translate(354.05,1161.20) scale(0.02844,-0.02979)" d="M660,0 L900,0 L900,1409 L735,1409 L190,1045 L190,800 L660,1020 Z"/>
<text transform="translate(386.45,1161.20) scale(0.955,1)">4</text>
<text transform="translate(418.85,1161.20) scale(0.955,1)">4</text>
<path stroke="none" transform="translate(536.65,1161.20) scale(0.02844,-0.02979)" d="M660,0 L900,0 L900,1409 L735,1409 L190,1045 L190,800 L660,1020 Z"/>
<text transform="translate(569.05,1161.20) scale(0.955,1)">4</text>
<text transform="translate(601.45,1161.20) scale(0.955,1)">5</text>
<path stroke="none" transform="translate(719.25,1161.20) scale(0.02844,-0.02979)" d="M660,0 L900,0 L900,1409 L735,1409 L190,1045 L190,800 L660,1020 Z"/>
<text transform="translate(751.65,1161.20) scale(0.955,1)">4</text>
<text transform="translate(784.05,1161.20) scale(0.955,1)">6</text>
<path stroke="none" transform="translate(901.85,1161.20) scale(0.02844,-0.02979)" d="M660,0 L900,0 L900,1409 L735,1409 L190,1045 L190,800 L660,1020 Z"/>
<text transform="translate(934.25,1161.20) scale(0.955,1)">4</text>
<text transform="translate(966.65,1161.20) scale(0.955,1)">7</text>
<path stroke="none" transform="translate(1084.45,1161.20) scale(0.02844,-0.02979)" d="M660,0 L900,0 L900,1409 L735,1409 L190,1045 L190,800 L660,1020 Z"/>
<text transform="translate(1116.85,1161.20) scale(0.955,1)">4</text>
<text transform="translate(1149.25,1161.20) scale(0.955,1)">8</text>
<path stroke="none" transform="translate(282.90,98.00) scale(0.02844,-0.02979)" d="M660,0 L900,0 L900,1409 L735,1409 L190,1045 L190,800 L660,1020 Z"/>
<text transform="translate(315.30,98.00) scale(0.955,1)">5</text>
<text transform="translate(347.70,98.00) scale(0.955,1)">4</text>
<path stroke="none" transform="translate(506.00,98.00) scale(0.02844,-0.02979)" d="M660,0 L900,0 L900,1409 L735,1409 L190,1045 L190,800 L660,1020 Z"/>
<text transform="translate(538.40,98.00) scale(0.955,1)">5</text>
<text transform="translate(570.80,98.00) scale(0.955,1)">5</text>
<path stroke="none" transform="translate(729.10,98.00) scale(0.02844,-0.02979)" d="M660,0 L900,0 L900,1409 L735,1409 L190,1045 L190,800 L660,1020 Z"/>
<text transform="translate(761.50,98.00) scale(0.955,1)">5</text>
<text transform="translate(793.90,98.00) scale(0.955,1)">6</text>
<path stroke="none" transform="translate(952.20,98.00) scale(0.02844,-0.02979)" d="M660,0 L900,0 L900,1409 L735,1409 L190,1045 L190,800 L660,1020 Z"/>
<text transform="translate(984.60,98.00) scale(0.955,1)">5</text>
<text transform="translate(1017.00,98.00) scale(0.955,1)">7</text>
<path stroke="none" transform="translate(1175.40,98.00) scale(0.02844,-0.02979)" d="M660,0 L900,0 L900,1409 L735,1409 L190,1045 L190,800 L660,1020 Z"/>
<text transform="translate(1207.80,98.00) scale(0.955,1)">5</text>
<text transform="translate(1240.20,98.00) scale(0.955,1)">8</text>
<path stroke="none" transform="translate(103.60,215.65) scale(0.02844,-0.02979)" d="M660,0 L900,0 L900,1409 L735,1409 L190,1045 L190,800 L660,1020 Z"/>
<text transform="translate(136.00,215.65) scale(0.955,1)">4</text>
<text transform="translate(168.40,215.65) scale(0.955,1)">7</text>
<path stroke="none" transform="translate(103.60,423.30) scale(0.02844,-0.02979)" d="M660,0 L900,0 L900,1409 L735,1409 L190,1045 L190,800 L660,1020 Z"/>
<text transform="translate(136.00,423.30) scale(0.955,1)">4</text>
<text transform="translate(168.40,423.30) scale(0.955,1)">4</text>
<path stroke="none" transform="translate(103.60,630.95) scale(0.02844,-0.02979)" d="M660,0 L900,0 L900,1409 L735,1409 L190,1045 L190,800 L660,1020 Z"/>
<text transform="translate(136.00,630.95) scale(0.955,1)">4</text>
<path stroke="none" transform="translate(168.40,630.95) scale(0.02844,-0.02979)" d="M660,0 L900,0 L900,1409 L735,1409 L190,1045 L190,800 L660,1020 Z"/>
<path stroke="none" transform="translate(103.60,838.60) scale(0.02844,-0.02979)" d="M660,0 L900,0 L900,1409 L735,1409 L190,1045 L190,800 L660,1020 Z"/>
<text transform="translate(136.00,838.60) scale(0.955,1)">3</text>
<text transform="translate(168.40,838.60) scale(0.955,1)">8</text>
<path stroke="none" transform="translate(103.60,1046.25) scale(0.02844,-0.02979)" d="M660,0 L900,0 L900,1409 L735,1409 L190,1045 L190,800 L660,1020 Z"/>
<text transform="translate(136.00,1046.25) scale(0.955,1)">3</text>
<text transform="translate(168.40,1046.25) scale(0.955,1)">5</text>
<path stroke="none" transform="translate(1241.50,146.50) scale(0.02844,-0.02979)" d="M660,0 L900,0 L900,1409 L735,1409 L190,1045 L190,800 L660,1020 Z"/>
<text transform="translate(1273.90,146.50) scale(0.955,1)">6</text>
<text transform="translate(1306.30,146.50) scale(0.955,1)">8</text>
<path stroke="none" transform="translate(1241.50,469.10) scale(0.02844,-0.02979)" d="M660,0 L900,0 L900,1409 L735,1409 L190,1045 L190,800 L660,1020 Z"/>
<text transform="translate(1273.90,469.10) scale(0.955,1)">6</text>
<text transform="translate(1306.30,469.10) scale(0.955,1)">6</text>
<path stroke="none" transform="translate(1241.50,792.70) scale(0.02844,-0.02979)" d="M660,0 L900,0 L900,1409 L735,1409 L190,1045 L190,800 L660,1020 Z"/>
<text transform="translate(1273.90,792.70) scale(0.955,1)">6</text>
<text transform="translate(1306.30,792.70) scale(0.955,1)">4</text>
<path stroke="none" transform="translate(1241.50,1115.50) scale(0.02844,-0.02979)" d="M660,0 L900,0 L900,1409 L735,1409 L190,1045 L190,800 L660,1020 Z"/>
<text transform="translate(1273.90,1115.50) scale(0.955,1)">6</text>
<text transform="translate(1306.30,1115.50) scale(0.955,1)">2</text>
</g>
<text x="722.8" y="1234.3" text-anchor="middle" font-family='"Liberation Sans", sans-serif' font-weight="bold" font-size="66">SNM(mV)</text>
<text transform="translate(89,614.8) rotate(-90)" x="0" y="0" text-anchor="middle" font-family='"Liberation Sans", sans-serif' font-weight="bold" font-size="66">WNM(mV)</text>
<circle cx="326.7" cy="187.9" r="15.5" fill="#fff" stroke="#008000" stroke-width="11.6"/>
<polygon fill="#ff0000" points="760.2,155.0 768.1,177.1 791.6,177.8 773.0,192.2 779.6,214.7 760.2,201.5 740.8,214.7 747.4,192.2 728.8,177.8 752.3,177.1"/>
<path transform="translate(314.4,1001.8)" d="M0,-14.2 L15.4,14.2 L-15.4,14.2 Z" fill="#fff" stroke="#0000ff" stroke-width="8.5" stroke-linejoin="round"/>
<g font-family='"Liberation Sans", sans-serif' font-weight="bold" font-size="55.5" fill="#000" stroke="#fff" stroke-width="0.7">
<text transform="translate(387.0,206.1) scale(0.965,1)" text-anchor="start">HCI W/ SHE</text>
<text transform="translate(819.5,206.0) scale(0.965,1)" text-anchor="start">HCI W/O SHE</text>
<text transform="translate(374.7,1025.0) scale(0.965,1)" text-anchor="start">HCI+BTI W/ SHE</text>
</g>
</svg>
</body></html>
